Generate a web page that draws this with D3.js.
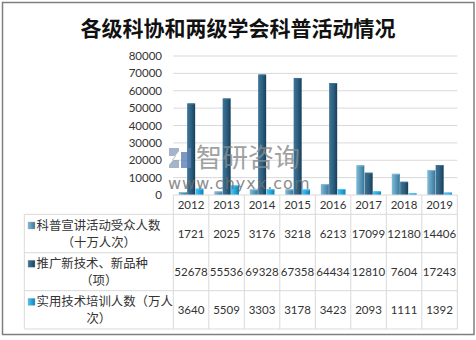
<!DOCTYPE html>
<html><head><meta charset="utf-8">
<script src="https://cdn.jsdelivr.net/npm/d3@7"></script>
<style>body{margin:0;background:#fff} svg{display:block}</style>
</head><body><svg id="c" width="476" height="340"></svg>
<script>
const title = "各级科协和两级学会科普活动情况";
const years = ["2012","2013","2014","2015","2016","2017","2018","2019"];
const seriesLines = [["科普宣讲活动受众人数","（十万人次）"],["推广新技术、新品种","（项）"],["实用技术培训人数（万人","次）"]];
const audience = [1721,2025,3176,3218,6213,17099,12180,14406];
const techniques = [52678,55536,69328,67358,64434,12810,7604,17243];
const training = [3640,5509,3303,3178,3423,2093,1111,1392];
const yTicks = [0,10000,20000,30000,40000,50000,60000,70000,80000];
const series = [audience, techniques, training];
const colors = [["#82bbd6","#5796b8","#3b7597"],["#3f7598","#2b5d7e","#173f58"],["#4cc3f0","#1ea5df","#0b7fb5"]];

const svg = d3.select("#c");
const defs = svg.append("defs");
colors.forEach((c,i)=>{
  const g = defs.append("linearGradient").attr("id","g"+i).attr("x1","0").attr("x2","1").attr("y1","0").attr("y2","0");
  g.append("stop").attr("offset","0%").attr("stop-color",c[0]);
  g.append("stop").attr("offset","55%").attr("stop-color",c[1]);
  g.append("stop").attr("offset","100%").attr("stop-color",c[2]);
});

svg.append("rect").attr("x",2.5).attr("y",2.5).attr("width",471.5).attr("height",332).attr("fill","#fff").attr("stroke","#7f7f7f").attr("stroke-width",1.5);

svg.append("text").attr("x",238).attr("y",36).attr("text-anchor","middle")
  .attr("font-family","'Noto Sans CJK SC'").attr("font-weight",700).attr("font-size",21).attr("fill","#111").text(title);

const x = d3.scaleBand().domain(years).range([173.3,457.3]).padding(0);
const x1 = d3.scaleBand().domain([0,1,2]).range([5.5,30.5]).padding(0);
const y = d3.scaleLinear().domain([0,80000]).range([195,56]);

// gridlines
svg.append("g").selectAll("line").data(yTicks.slice(1)).join("line")
  .attr("x1",173.3).attr("x2",457.3).attr("y1",d=>y(d)).attr("y2",d=>y(d))
  .attr("stroke","#d9d9d9").attr("stroke-width",1);

// y labels
svg.append("g").selectAll("text").data(yTicks).join("text")
  .attr("x",162).attr("y",d=>y(d)+4).attr("text-anchor","end")
  .attr("font-family","Lato").attr("font-size",11.5).attr("fill","#333").text(d=>d);

// bars
const bars = svg.append("g");
series.forEach((vals,si)=>{
  const g = bars.append("g");
  g.selectAll("rect").data(vals).join("rect")
    .attr("x",(d,i)=>x(years[i])+x1(si)).attr("width",x1.bandwidth()-0.3)
    .attr("y",d=>y(d)).attr("height",d=>y(0)-y(d))
    .attr("fill","url(#g"+si+")");
  g.selectAll("line").data(vals).join("line")
    .attr("x1",(d,i)=>x(years[i])+x1(si)+0.5).attr("x2",(d,i)=>x(years[i])+x1(si)+x1.bandwidth()-0.8)
    .attr("y1",d=>y(d)+0.5).attr("y2",d=>y(d)+0.5)
    .attr("stroke",colors[si][0]).attr("stroke-width",1);
});

// watermark (on top)
const wm = svg.append("g").attr("opacity",0.8);
wm.append("path").attr("d","M169,148 h10 v3 l-7,9 h7 v8 h-10 v-3 l7,-9 h-7 z").attr("fill","#8fa2bd");
wm.append("path").attr("d","M181,152 h7 v-4 h3 v20 h-10 z").attr("fill","#5c7fb5");
wm.append("text").attr("x",196).attr("y",167).attr("font-family","'Noto Sans CJK SC'").attr("font-weight",400)
  .attr("font-size",26).attr("fill","#8a8a8a").text("智研咨询");
wm.append("text").attr("x",168).attr("y",189).attr("font-family","'DejaVu Sans'")
  .attr("font-size",16).attr("letter-spacing",1).attr("fill","#707070").text("www.chyxx.com");

// table
const rowsY = [195,214.3,252.7,290.7,329];
const tbl = svg.append("g").attr("stroke","#d9d9d9").attr("stroke-width",1);
tbl.append("line").attr("x1",173.3).attr("x2",457.3).attr("y1",195).attr("y2",195);
rowsY.slice(1).forEach(yy=>tbl.append("line").attr("x1",24.3).attr("x2",457.3).attr("y1",yy).attr("y2",yy));
const bounds = years.map(d=>x(d)).concat([x(years[years.length-1])+x.bandwidth()]);
tbl.selectAll("line.v").data(bounds).join("line").attr("class","v")
  .attr("x1",d=>d).attr("x2",d=>d).attr("y1",195).attr("y2",329);
tbl.append("line").attr("x1",24.3).attr("x2",24.3).attr("y1",214.3).attr("y2",329);

const txt = svg.append("g").attr("fill","#333");
txt.selectAll("text.yr").data(years).join("text").attr("class","yr")
  .attr("x",d=>x(d)+x.bandwidth()/2).attr("y",208.5).attr("text-anchor","middle")
  .attr("font-family","Lato").attr("font-size",11.5).text(d=>d);

series.forEach((vals,si)=>{
  const cy = (rowsY[si+1]+rowsY[si+2])/2;
  txt.append("g").selectAll("text").data(vals).join("text")
    .attr("x",(d,i)=>x(years[i])+x.bandwidth()/2).attr("y",cy+4).attr("text-anchor","middle")
    .attr("font-family","Lato").attr("font-size",11.5).text(d=>d);
  svg.append("rect").attr("x",28).attr("y",cy-11.5).attr("width",7).attr("height",7)
    .attr("fill","url(#g"+si+")").attr("stroke","#aaa").attr("stroke-width",0.4);
  txt.append("text").attr("x",36.5).attr("y",cy-3.5)
    .attr("font-family","'Noto Sans CJK SC'").attr("font-size",12.4).text(seriesLines[si][0]);
  txt.append("text").attr("x",98.8).attr("y",cy+13).attr("text-anchor","middle")
    .attr("font-family","'Noto Sans CJK SC'").attr("font-size",12.4).text(seriesLines[si][1]);
});
</script></body></html>
